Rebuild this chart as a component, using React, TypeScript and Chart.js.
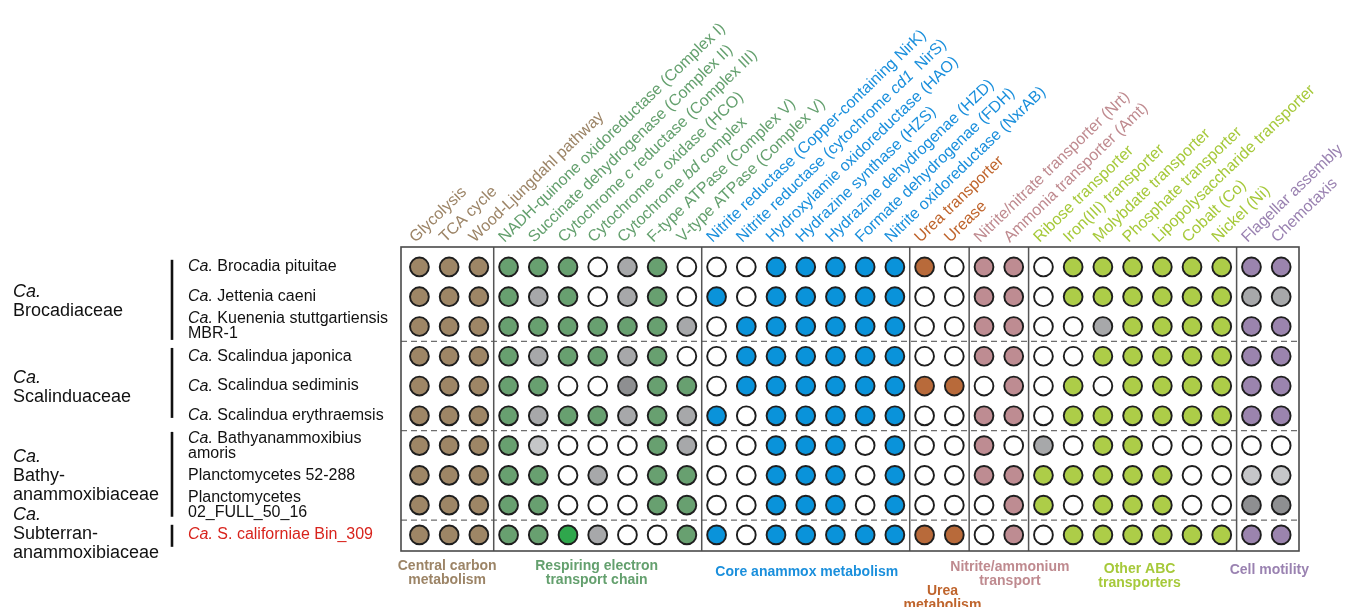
import React, { useEffect, useRef } from "react";
import { Chart, registerables } from "chart.js";

Chart.register(...registerables);

// ---------- DATA ----------
const columnLabels: string[] = [
  "Glycolysis",
  "TCA cycle",
  "Wood-Ljungdahl pathway",
  "NADH-quinone oxidoreductase (Complex I)",
  "Succinate dehydrogenase (Complex II)",
  "Cytochrome <i>c</i> reductase (Complex III)",
  "Cytochrome <i>c</i> oxidase (HCO)",
  "Cytochrome <i>bd</i> complex",
  "F-type ATPase (Complex V)",
  "V-type ATPase (Complex V)",
  "Nitrite reductase (Copper-containing NirK)",
  "Nitrite reductase (cytochrome <i>cd1</i>  NirS)",
  "Hydroxylamie oxidoreductase (HAO)",
  "Hydrazine synthase (HZS)",
  "Hydrazine dehydrogenae (HZD)",
  "Formate dehydrogenae (FDH)",
  "Nitrite oxidoreductase (NxrAB)",
  "Urea transporter",
  "Urease",
  "Nitrite/nitrate transporter (Nrt)",
  "Ammonia transporter (Amt)",
  "Ribose transporter",
  "Iron(III) transporter",
  "Molybdate transporter",
  "Phosphate transporter",
  "Lipopolysaccharide transporter",
  "Cobalt (Co)",
  "Nickel (Ni)",
  "Flagellar assembly",
  "Chemotaxis",
];

const columnGroup: number[] = [
  0, 0, 0, 1, 1, 1, 1, 1, 1, 1, 2, 2, 2, 2, 2, 2, 2, 3, 3, 4, 4, 5, 5, 5, 5, 5, 5, 5, 6, 6,
];

const groupNames: string[] = [
  "Central carbon\nmetabolism",
  "Respiring electron\ntransport chain",
  "Core anammox metabolism",
  "Urea\nmetabolism",
  "Nitrite/ammonium\ntransport",
  "Other ABC\ntransporters",
  "Cell motility",
];

const groupColors: string[] = [
  "#9c8466",
  "#64a06e",
  "#1a8fdc",
  "#bf642c",
  "#bf8a8f",
  "#a6c93a",
  "#9a82b1",
];

const rowLabels: string[][] = [
  ["<i>Ca.</i> Brocadia pituitae"],
  ["<i>Ca.</i> Jettenia caeni"],
  ["<i>Ca.</i> Kuenenia stuttgartiensis", "MBR-1"],
  ["<i>Ca.</i> Scalindua japonica"],
  ["<i>Ca.</i> Scalindua sediminis"],
  ["<i>Ca.</i> Scalindua erythraemsis"],
  ["<i>Ca.</i> Bathyanammoxibius", "amoris"],
  ["Planctomycetes 52-288"],
  ["Planctomycetes", "02_FULL_50_16"],
  ["<i>Ca.</i> S. californiae Bin_309"],
];

const rowLabelColors: string[] = [
  "#111", "#111", "#111", "#111", "#111", "#111", "#111", "#111", "#111", "#d8231c",
];

const rowFamily: number[] = [0, 0, 0, 1, 1, 1, 2, 2, 2, 3];

const familyLabels: string[][] = [
  ["<i>Ca.</i>", "Brocadiaceae"],
  ["<i>Ca.</i>", "Scalinduaceae"],
  ["<i>Ca.</i>", "Bathy-", "anammoxibiaceae"],
  ["<i>Ca.</i>", "Subterran-", "anammoxibiaceae"],
];

// Cell states per row (groups separated by spaces)
// B brown, G green, b blue, O orange, P pink, Y yellow-green, V violet,
// W absent, g gray, D dark gray, L light gray, E bright green
const row0 = "BBB GGGWgGW WWbbbbb OW PP WYYYYYY VV";
const row1 = "BBB GgGWgGW bWbbbbb WW PP WYYYYYY gg";
const row2 = "BBB GGGGGGg Wbbbbbb WW PP WWgYYYY VV";
const row3 = "BBB GgGGgGW Wbbbbbb WW PP WWYYYYY VV";
const row4 = "BBB GGWWDGG Wbbbbbb OO WP WYWYYYY VV";
const row5 = "BBB GgGGgGg bWbbbbb WW PP WYYYYYY VV";
const row6 = "BBB GLWWWGg WWbbbWb WW PW gWYYWWW WW";
const row7 = "BBB GGWgWGG WWbbbWb WW PP YYYYYWW LL";
const row8 = "BBB GGWWWGG WWbbbWb WW WP YWYYYWW DD";
const row9 = "BBB GGEgWWG bWbbbbb OO WP WYYYYYY VV";
const matrixRows: string[] = [row0, row1, row2, row3, row4, row5, row6, row7, row8, row9];

const stateColors: Record<string, string> = {
  B: "#9e8666",
  G: "#68a070",
  b: "#0a93da",
  O: "#b86a3a",
  P: "#be8c92",
  Y: "#adcd48",
  V: "#9b84ae",
  W: "#ffffff",
  g: "#a7a8aa",
  D: "#8e8f91",
  L: "#c5c6c8",
  E: "#2fa74c",
};

// ---------- LAYOUT CONSTANTS ----------
const W = 1349;
const H = 607;
const SANS = '"Liberation Sans", Arial, Helvetica, sans-serif';

function drawRich(
  ctx: CanvasRenderingContext2D,
  text: string,
  x: number,
  y: number,
  size: number,
  color: string,
  align: "left" | "center",
  weight = "normal"
) {
  const parts = text.split(/(<i>|<\/i>)/);
  let italic = false;
  const segs: { t: string; it: boolean }[] = [];
  for (const p of parts) {
    if (p === "<i>") italic = true;
    else if (p === "</i>") italic = false;
    else if (p) segs.push({ t: p, it: italic });
  }
  const fontFor = (it: boolean) => `${it ? "italic " : ""}${weight} ${size}px ${SANS}`;
  let total = 0;
  for (const s of segs) {
    ctx.font = fontFor(s.it);
    total += ctx.measureText(s.t).width;
  }
  let cx = align === "center" ? x - total / 2 : x;
  ctx.fillStyle = color;
  ctx.textAlign = "left";
  for (const s of segs) {
    ctx.font = fontFor(s.it);
    ctx.fillText(s.t, cx, y);
    cx += ctx.measureText(s.t).width;
  }
}

const overlayPlugin = {
  id: "overlay",
  beforeDatasetsDraw(chart: any) {
    const { ctx, chartArea: a, scales } = chart;
    const x = scales.x;
    const y = scales.y;
    ctx.save();
    // dashed separators between families
    ctx.setLineDash([6, 4]);
    ctx.strokeStyle = "#6e6e6e";
    ctx.lineWidth = 1.3;
    for (let r = 1; r < rowFamily.length; r++) {
      if (rowFamily[r] !== rowFamily[r - 1]) {
        const py = (y.getPixelForValue(r - 1) + y.getPixelForValue(r)) / 2;
        ctx.beginPath();
        ctx.moveTo(a.left, py);
        ctx.lineTo(a.right, py);
        ctx.stroke();
      }
    }
    ctx.setLineDash([]);
    // vertical separators between column groups
    ctx.strokeStyle = "#555";
    ctx.lineWidth = 1.5;
    for (let c = 1; c < columnGroup.length; c++) {
      if (columnGroup[c] !== columnGroup[c - 1]) {
        const px = (x.getPixelForValue(c - 1) + x.getPixelForValue(c)) / 2;
        ctx.beginPath();
        ctx.moveTo(px, a.top);
        ctx.lineTo(px, a.bottom);
        ctx.stroke();
      }
    }
    // box
    ctx.strokeStyle = "#4a4a4a";
    ctx.lineWidth = 1.6;
    ctx.strokeRect(a.left, a.top, a.right - a.left, a.bottom - a.top);
    ctx.restore();
  },
  afterDraw(chart: any) {
    const { ctx, chartArea: a, scales } = chart;
    const x = scales.x;
    const y = scales.y;
    ctx.save();
    ctx.textBaseline = "alphabetic";

    // column labels (rotated)
    const ang = (-44 * Math.PI) / 180;
    columnLabels.forEach((lab, c) => {
      const px = x.getPixelForValue(c) - 4;
      const py = a.top - 4;
      ctx.save();
      ctx.translate(px, py);
      ctx.rotate(ang);
      drawRich(ctx, lab, 0, 0, 16, groupColors[columnGroup[c]], "left");
      ctx.restore();
    });

    // row labels
    ctx.textBaseline = "middle";
    rowLabels.forEach((lines, r) => {
      const cy = y.getPixelForValue(r);
      const lh = 15;
      lines.forEach((ln, i) => {
        const ly = cy + (i - (lines.length - 1) / 2) * lh;
        drawRich(ctx, ln, 188, ly, 16, rowLabelColors[r], "left");
      });
    });

    // family labels and brackets
    const famCenters = [1.15, 4.05, 7.02, 8.97];
    familyLabels.forEach((lines, f) => {
      const cy = y.getPixelForValue(famCenters[f]);
      const lh = 19.3;
      lines.forEach((ln, i) => {
        const ly = cy + (i - (lines.length - 1) / 2) * lh;
        drawRich(ctx, ln, 13, ly, 18, "#111", "left");
      });
    });
    const brackets = [
      [-0.24, 2.45],
      [2.72, 5.07],
      [5.54, 8.39],
      [8.66, 9.4],
    ];
    ctx.strokeStyle = "#111";
    ctx.lineWidth = 2.6;
    brackets.forEach(([s, e]) => {
      ctx.beginPath();
      ctx.moveTo(172, y.getPixelForValue(s));
      ctx.lineTo(172, y.getPixelForValue(e));
      ctx.stroke();
    });

    // group labels under the matrix
    ctx.textBaseline = "alphabetic";
    const groupDx = [-2, -1, 1, 3, 11, 7, 3];
    const groupY = [570, 570, 576, 595, 571, 573, 574];
    groupNames.forEach((name, g) => {
      const cols = columnGroup.map((v, i) => (v === g ? i : -1)).filter((i) => i >= 0);
      const mid = (cols[0] + cols[cols.length - 1]) / 2;
      const cx = x.getPixelForValue(mid) + groupDx[g];
      name.split("\n").forEach((ln, i) => {
        drawRich(ctx, ln, cx, groupY[g] + i * 13.5, 14, groupColors[g], "center", "bold");
      });
    });
    ctx.restore();
  },
};

export default function App() {
  const ref = useRef<HTMLCanvasElement | null>(null);
  useEffect(() => {
    document.body.style.margin = "0";
    const canvas = ref.current;
    if (!canvas) return;
    const points: { x: number; y: number }[] = [];
    const fills: string[] = [];
    matrixRows.forEach((rowStr, r) => {
      const cells = rowStr.replace(/ /g, "").split("");
      cells.forEach((s, c) => {
        points.push({ x: c, y: r });
        fills.push(stateColors[s]);
      });
    });
    const chart = new Chart(canvas, {
      type: "scatter",
      data: {
        datasets: [
          {
            data: points,
            pointRadius: 9.4,
            pointHoverRadius: 9.4,
            pointBackgroundColor: fills,
            pointBorderColor: "#1e1e1e",
            pointBorderWidth: 1.9,
          },
        ],
      },
      options: {
        animation: false,
        responsive: false,
        events: [],
        layout: { padding: { left: 401, top: 247, right: W - 1299, bottom: H - 551 } },
        plugins: { legend: { display: false }, tooltip: { enabled: false } },
        scales: {
          x: { type: "linear", min: -0.62, max: 29.6, display: false },
          y: { type: "linear", min: -0.67, max: 9.54, reverse: true, display: false },
        },
      },
      plugins: [overlayPlugin],
    });
    return () => chart.destroy();
  }, []);
  return (
    <div style={{ width: W, height: H, position: "relative", background: "#fff" }}>
      <canvas ref={ref} width={W} height={H} style={{ display: "block" }} />
    </div>
  );
}
